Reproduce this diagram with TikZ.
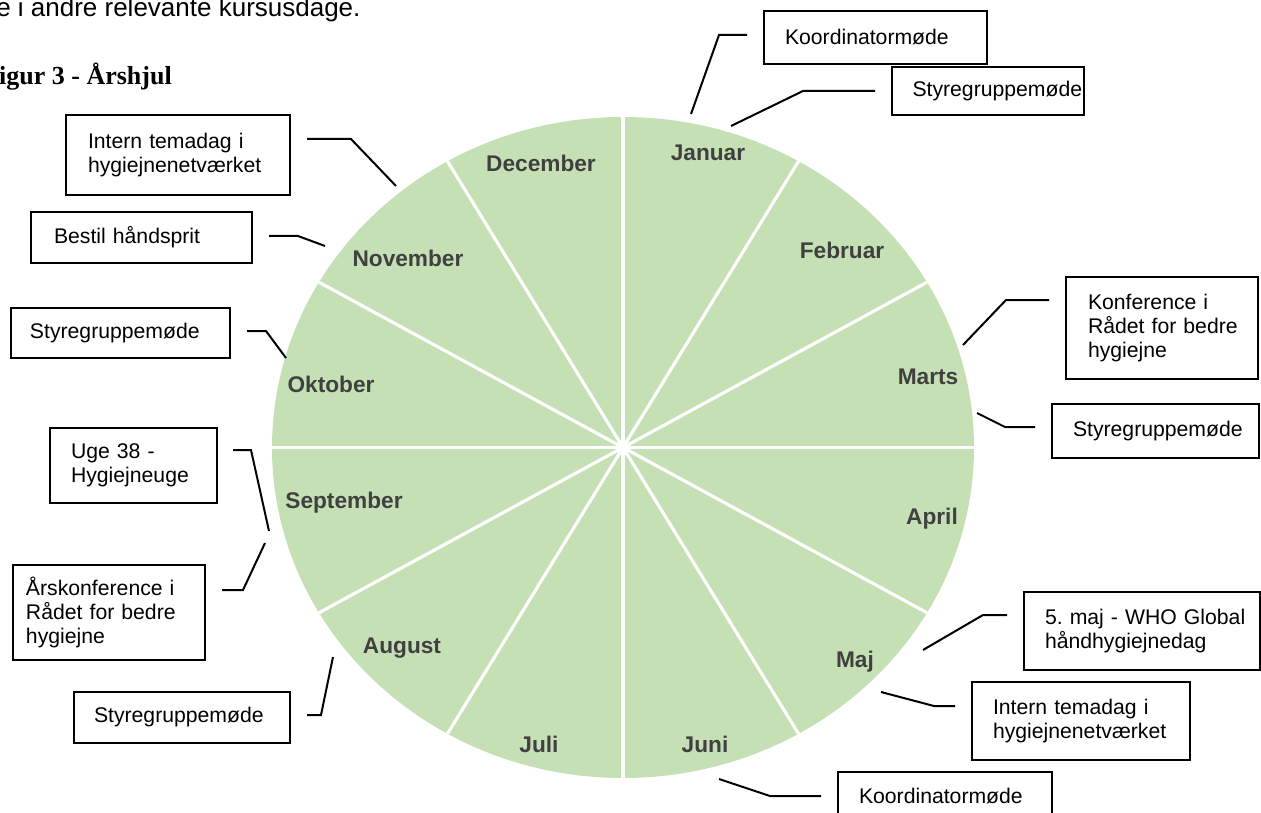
\documentclass[tikz,border=0pt]{standalone}
\usepackage{fontspec}
\setmainfont{Liberation Sans}
\newfontfamily\serifbold{Liberation Serif}
\usetikzlibrary{calc}
\definecolor{wheel}{HTML}{C5E0B4}
\definecolor{mlab}{HTML}{404040}
\newcommand\oneline[1]{\mbox{#1}}
\frenchspacing
\hbadness=10000 \hfuzz=200pt
\begin{document}
\begin{tikzpicture}[x=0.75pt,y=-0.75pt,
  box/.style={draw, line width=1.5pt, anchor=north west, align=left,
    font=\fontsize{15.9}{18}\selectfont, inner ysep=0pt, inner xsep=15.75pt},
  conn/.style={line width=1.5pt, line join=miter},
  month/.style={font=\fontsize{17}{20}\selectfont\bfseries, text=mlab, inner sep=0pt},
  sep/.style={white, line width=2.4pt}]
\useasboundingbox (0,0) rectangle (1261,813);
\clip (0,0) rectangle (1261,813);

% wheel
\fill[wheel] (623,447.5) ellipse [x radius=263.25pt, y radius=247.875pt];
\foreach \a in {0,30,...,330}
  \draw[sep] (623,447.5) -- ({623+351*cos(\a)},{447.5-330.5*sin(\a)});

% month labels
\node[month] (jan) at (708,153) {Januar};
\node[month] (feb) at (842,250) {Februar};
\node[month] (mar) at (928,377) {Marts};
\node[month] (apr) at (932,519) {April};
\node[month] (maj) at (855,662) {Maj};
\node[month] (jun) at (705,744) {Juni};
\node[month] (jul) at (539,744) {Juli};
\node[month] (aug) at (402,648) {August};
\node[month] (sep) at (344,503) {September};
\node[month] (okt) at (331,384) {Oktober};
\node[month] (nov) at (408,258) {November};
\node[month] (dec) at (541,163) {December};

% surrounding text
\node[anchor=base west, inner sep=0pt, font=\fontsize{19.5}{22}\selectfont] (bodytxt) at (-4,17) {e i andre relevante kursusdage.};
\node[anchor=base east, inner sep=0pt, font=\serifbold\bfseries\fontsize{19.5}{22}\selectfont] (title) at (172,85) {Figur 3 - Årshjul};

% boxes
\node[box, text width=135.75pt, minimum height=39.75pt] (koordTop) at (763,10) {\oneline{Koordinatormøde}};
\node[box, text width=113.25pt, inner xsep=15.375pt, minimum height=36pt] (styrTop) at (891,66) {\oneline{Styregruppemøde}};
\node[box, text width=111pt, inner xsep=16.5pt, minimum height=76.5pt] (konf) at (1065,276) {\oneline{Konference i}\\\oneline{Rådet for bedre}\\\oneline{hygiejne}};
\node[box, text width=123.75pt, minimum height=40.5pt] (styrRight) at (1051,403) {\oneline{Styregruppemøde}};
\node[box, text width=145.5pt, minimum height=58.5pt] (majfem) at (1023,591) {\oneline{5. maj - WHO Global}\\\oneline{håndhygiejnedag}};
\node[box, text width=132pt, minimum height=58.5pt] (internBR) at (971,681) {\oneline{Intern temadag i}\\\oneline{hygiejnenetværket}};
\node[box, text width=129pt, minimum height=36pt] (koordBot) at (837,771) {\oneline{Koordinatormøde}};
\node[box, text width=135pt, inner xsep=16.5pt, minimum height=60pt] (internTL) at (65,114) {\oneline{Intern temadag i}\\\oneline{hygiejnenetværket}};
\node[box, text width=131.25pt, inner xsep=17.25pt, minimum height=38.25pt] (bestil) at (30,211) {\oneline{Bestil håndsprit}};
\node[box, text width=135.75pt, inner xsep=14.25pt, minimum height=37.5pt] (styrLeft) at (10,307) {\oneline{Styregruppemøde}};
\node[box, text width=93.75pt, minimum height=56.25pt] (uge) at (49,427) {\oneline{Uge 38 -}\\\oneline{Hygiejneuge}};
\node[box, text width=124.5pt, inner xsep=9.75pt, minimum height=71.25pt] (aars) at (12,564) {\oneline{Årskonference i}\\\oneline{Rådet for bedre}\\\oneline{hygiejne}};
\node[box, text width=132pt, inner xsep=15pt, minimum height=38.25pt] (styrBL) at (73,691) {\oneline{Styregruppemøde}};

% connector end points on the wheel
\coordinate (e1) at (691,114);
\coordinate (e2) at (731,126);
\coordinate (e3) at (963,345);
\coordinate (e4) at (977,413);
\coordinate (e5) at (923,650);
\coordinate (e6) at (881,692);
\coordinate (e7) at (719,779);
\coordinate (e8) at (396,186);
\coordinate (e9) at (325,246);
\coordinate (e10) at (286,358);
\coordinate (e11) at (269,531);
\coordinate (e12) at (265,543);
\coordinate (e13) at (333,657);

% connectors
\draw[conn] ($(koordTop.west)+(-16,-2.5)$) -- ++(-28,0) -- (e1);
\draw[conn] ($(styrTop.west)+(-16,0)$) -- ++(-72,0) -- (e2);
\draw[conn] ($(konf.west)+(-16,-28)$) -- ++(-43,0) -- (e3);
\draw[conn] ($(styrRight.west)+(-16,-4)$) -- ++(-30,0) -- (e4);
\draw[conn] ($(majfem.west)+(-16,-16)$) -- ++(-24,0) -- (e5);
\draw[conn] ($(internBR.west)+(-16,-15)$) -- ++(-21,0) -- (e6);
\draw[conn] ($(koordBot.west)+(-16,0)$) -- ++(-51,0) -- (e7);
\draw[conn] ($(internTL.east)+(16,-16)$) -- ++(44,0) -- (e8);
\draw[conn] ($(bestil.east)+(16,-1.5)$) -- ++(29,0) -- (e9);
\draw[conn] ($(styrLeft.east)+(16,-2)$) -- ++(19,0) -- (e10);
\draw[conn] ($(uge.east)+(15,-15.5)$) -- ++(18,0) -- (e11);
\draw[conn] ($(aars.east)+(16,-22.5)$) -- ++(21,0) -- (e12);
\draw[conn] ($(styrBL.east)+(16,-2.5)$) -- ++(14,0) -- (e13);
\end{tikzpicture}
\end{document}
